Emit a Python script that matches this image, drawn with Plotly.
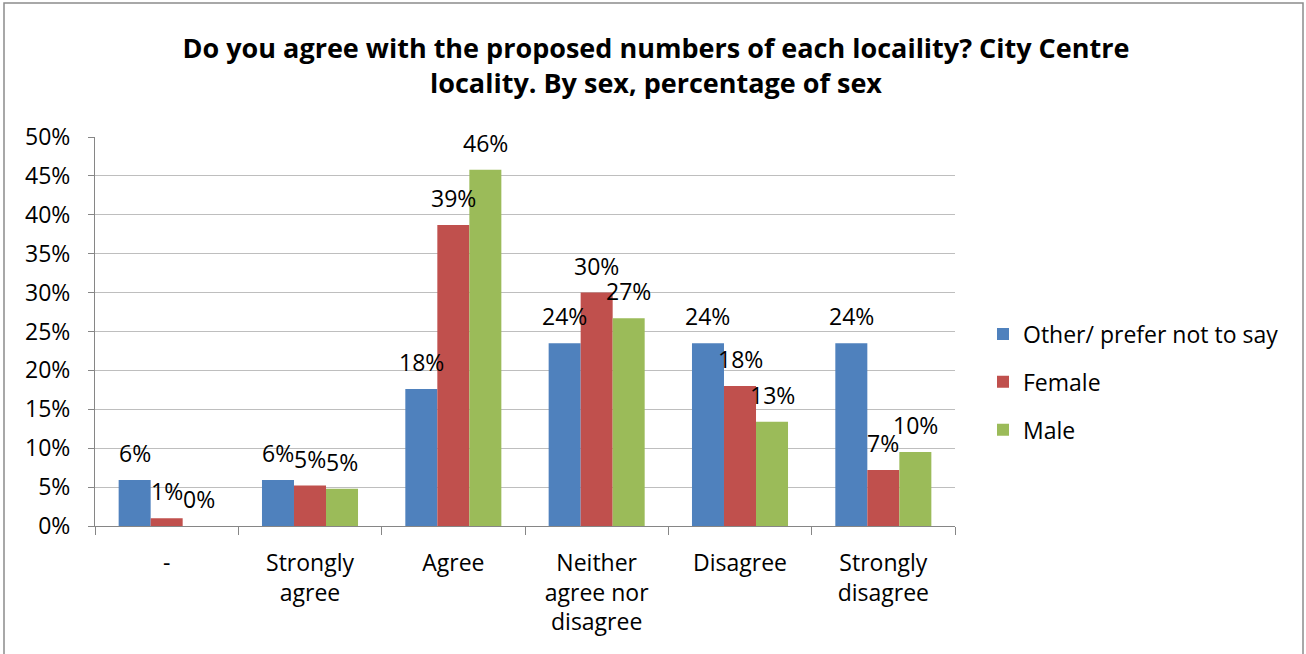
import plotly.graph_objects as go

categories = ["-", "Strongly<br>agree", "Agree", "Neither<br>agree nor<br>disagree", "Disagree", "Strongly<br>disagree"]
series_names = ["Other/ prefer not to say", "Female", "Male"]
other_vals = [0.059, 0.059, 0.176, 0.235, 0.235, 0.235]
female_vals = [0.010, 0.052, 0.387, 0.300, 0.180, 0.072]
male_vals = [0.000, 0.048, 0.458, 0.267, 0.134, 0.095]
colors = ["#4F81BD", "#C0504D", "#9BBB59"]
y_tickvals = [0, 0.05, 0.10, 0.15, 0.20, 0.25, 0.30, 0.35, 0.40, 0.45, 0.50]
y_ticktext = ["0%", "5%", "10%", "15%", "20%", "25%", "30%", "35%", "40%", "45%", "50%"]

FONT = "Open Sans"
FS = 23
W, H = 1306, 654
ML, MR, MT, MB = 95, 351, 137, 128
plot_w = W - ML - MR
plot_h = H - MT - MB
bargap = 0.33
bar_px = plot_w / len(categories) * (1 - bargap) / 3

fig = go.Figure()
all_vals = [other_vals, female_vals, male_vals]
for i, (name, vals, col) in enumerate(zip(series_names, all_vals, colors)):
    fig.add_trace(go.Bar(
        x=categories, y=vals, name=name, marker=dict(color=col, line=dict(width=0)),
        legendgroup=name,
    ))
    for c, v in zip(categories, vals):
        fig.add_annotation(
            x=c, y=v, xref="x", yref="y", text=f"{round(v*100):.0f}%",
            showarrow=False, xshift=(i - 1) * bar_px, yshift=27,
            font=dict(family=FONT, size=FS, color="#000000"),
            xanchor="center", yanchor="middle",
        )

# outer border
fig.add_shape(type="rect", xref="paper", yref="paper",
              x0=(4 - ML) / plot_w, x1=(1303 - ML) / plot_w,
              y0=(H - MB - 660) / plot_h, y1=(H - MB - 3) / plot_h,
              line=dict(color="#8C8C8C", width=1.5), fillcolor="rgba(0,0,0,0)", layer="below")

fig.update_layout(
    width=W, height=H,
    margin=dict(l=ML, r=MR, t=MT, b=MB),
    paper_bgcolor="white", plot_bgcolor="white",
    barmode="group", bargap=bargap, bargroupgap=0,
    title=dict(text="<b>Do you agree with the proposed numbers of each locaility? City Centre<br>locality. By sex, percentage of sex</b>",
               x=656 / W, xref="container", xanchor="center", y=1 - 58 / H, yref="container", yanchor="middle",
               font=dict(family=FONT, size=27, color="#000000")),
    font=dict(family=FONT, size=FS, color="#000000"),
    legend=dict(x=(983 - ML) / plot_w, xanchor="left", y=(H - MB - 382) / plot_h, yanchor="middle",
                font=dict(family=FONT, size=FS), tracegroupgap=15, itemwidth=30,
                bgcolor="rgba(0,0,0,0)"),
    showlegend=True,
)
fig.update_yaxes(range=[0, 0.5], tickvals=y_tickvals, ticktext=y_ticktext,
                 showgrid=True, gridcolor="#BEBEBE", gridwidth=1,
                 showline=True, linecolor="#868686", linewidth=1,
                 ticks="outside", ticklen=6, tickcolor="#868686",
                 ticklabelstandoff=13, zeroline=False,
                 tickfont=dict(family=FONT, size=FS))
fig.update_xaxes(showline=True, linecolor="#868686", linewidth=1,
                 ticks="outside", ticklen=8, tickcolor="#868686", tickson="boundaries",
                 ticklabelstandoff=16, tickfont=dict(family=FONT, size=FS))

fig.write_html("out.html", config={"displayModeBar": False},
               post_script="document.body.style.margin='0';")
